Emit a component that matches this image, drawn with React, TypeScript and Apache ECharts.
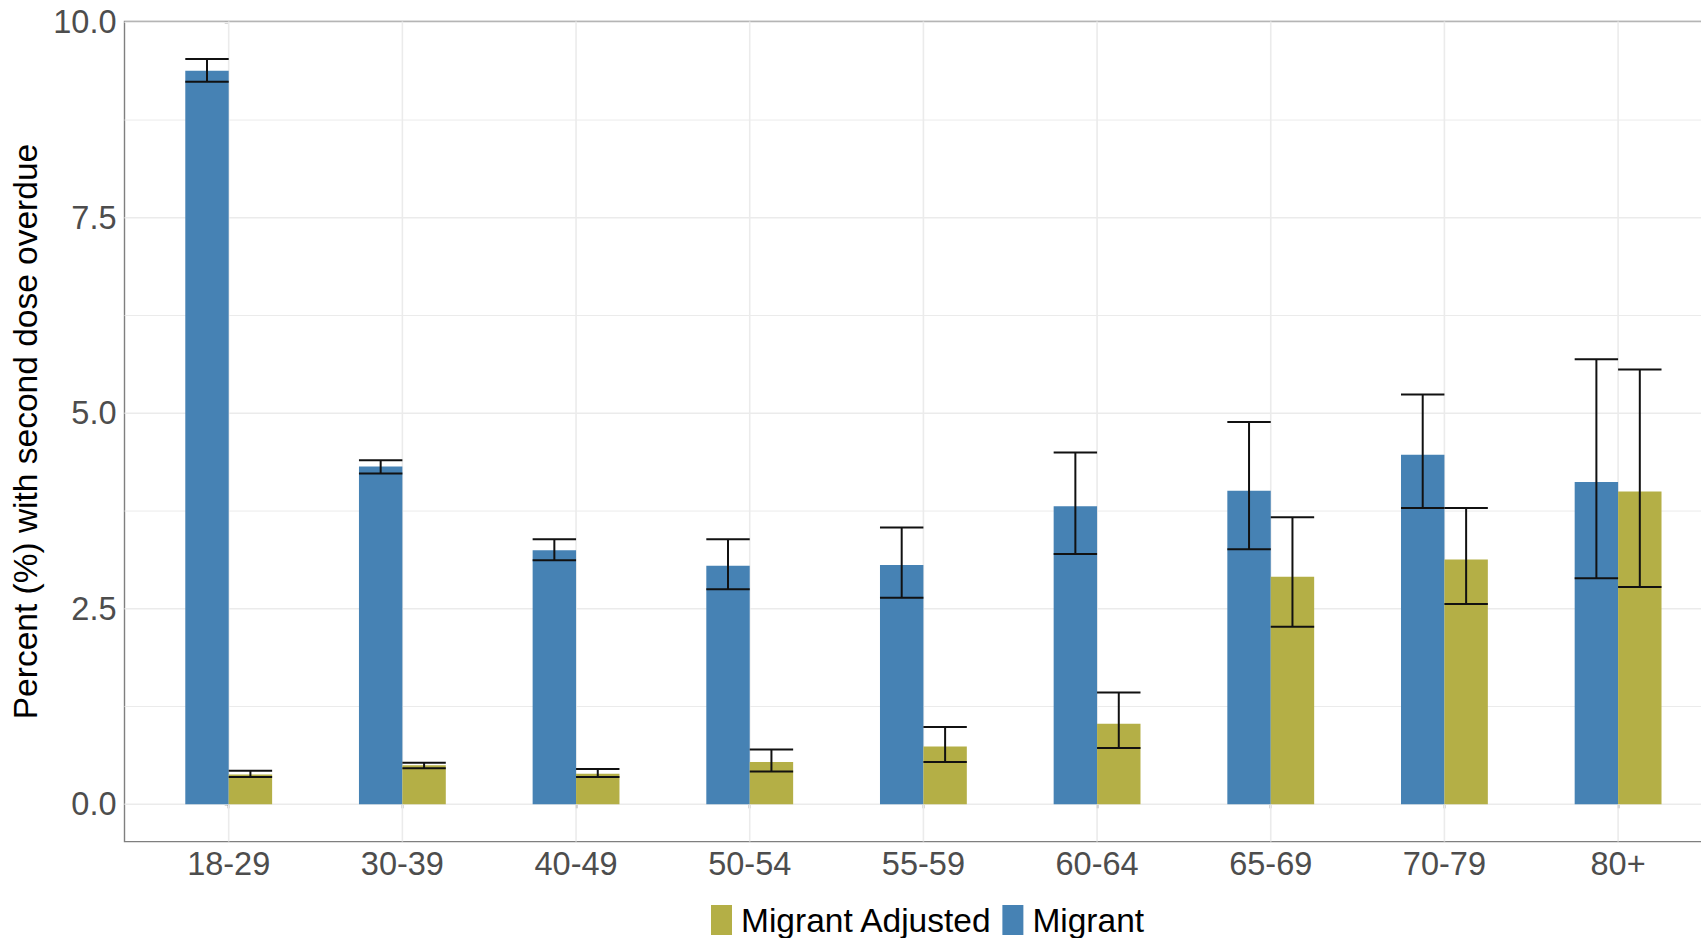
import React, { useEffect, useRef } from "react";
import * as echarts from "echarts";

const categories = ["18-29", "30-39", "40-49", "50-54", "55-59", "60-64", "65-69", "70-79", "80+"];

const migrant = [9.38, 4.32, 3.25, 3.05, 3.06, 3.81, 4.01, 4.47, 4.12];
const migrantLower = [9.24, 4.23, 3.12, 2.75, 2.64, 3.2, 3.26, 3.79, 2.89];
const migrantUpper = [9.53, 4.4, 3.39, 3.39, 3.54, 4.5, 4.89, 5.24, 5.69];

const adjusted = [0.38, 0.5, 0.39, 0.54, 0.74, 1.03, 2.91, 3.13, 4.0];
const adjustedLower = [0.35, 0.46, 0.35, 0.42, 0.54, 0.72, 2.27, 2.56, 2.78];
const adjustedUpper = [0.43, 0.53, 0.45, 0.7, 0.99, 1.43, 3.67, 3.79, 5.56];

const yTicks = [0, 2.5, 5, 7.5, 10];
const yMinorGrid = [1.25, 3.75, 6.25, 8.75];

const FONT = "'Liberation Sans', Arial, Helvetica, sans-serif";
const BLUE = "#4682B4";
const OLIVE = "#B4AF46";
const X_MIN = -0.6;
const X_MAX = 8.6;
const Y_MIN = -0.477;
const Y_MAX = 10.01;
const BAR_W = 0.25;

function barSeries(name: string, values: number[], offset: number, color: string) {
  return {
    name,
    type: "custom",
    z: 3,
    itemStyle: { color },
    encode: { x: 0, y: 1 },
    data: values.map((v, i) => [i, v]),
    renderItem: (_p: any, api: any) => {
      const i = api.value(0);
      const v = api.value(1);
      const a = api.coord([i + offset, v]);
      const b = api.coord([i + offset + BAR_W, 0]);
      return {
        type: "rect",
        shape: { x: a[0], y: a[1], width: b[0] - a[0], height: b[1] - a[1] },
        style: { fill: color },
      };
    },
  };
}

function errorSeries(name: string, lower: number[], upper: number[], offset: number) {
  return {
    name,
    type: "custom",
    z: 4,
    encode: { x: 0, y: [1, 2] },
    data: lower.map((lo, i) => [i, lo, upper[i]]),
    renderItem: (_p: any, api: any) => {
      const i = api.value(0);
      const lo = api.value(1);
      const hi = api.value(2);
      const c = i + offset + BAR_W / 2;
      const top = api.coord([c, hi]);
      const bot = api.coord([c, lo]);
      const l = api.coord([i + offset, hi])[0];
      const r = api.coord([i + offset + BAR_W, hi])[0];
      const style = { stroke: "#111111", lineWidth: 2, fill: null };
      return {
        type: "group",
        children: [
          { type: "line", shape: { x1: top[0], y1: top[1], x2: bot[0], y2: bot[1] }, style },
          { type: "line", shape: { x1: l, y1: top[1], x2: r, y2: top[1] }, style },
          { type: "line", shape: { x1: l, y1: bot[1], x2: r, y2: bot[1] }, style },
        ],
      };
    },
  };
}

export default function App() {
  const ref = useRef<HTMLDivElement>(null);

  useEffect(() => {
    if (!ref.current) return;
    const chart = echarts.init(ref.current, undefined, { renderer: "svg" });

    const hGrid = [...yTicks, ...yMinorGrid];

    const option: any = {
      animation: false,
      backgroundColor: "#ffffff",
      textStyle: { fontFamily: FONT },
      grid: {
        left: 124.5,
        top: 21.5,
        width: 1597.8,
        height: 820.1,
        outerBoundsMode: "none",
        containLabel: false,
        show: true,
        borderColor: "#7f7f7f",
        borderWidth: 1.4,
        backgroundColor: "transparent",
      },
      legend: {
        data: ["Migrant Adjusted", "Migrant"],
        left: 711,
        top: 903,
        padding: 0,
        itemWidth: 21,
        itemHeight: 30,
        itemGap: 10,
        icon: "rect",
        textStyle: { fontSize: 33.5, color: "#000000", fontFamily: FONT, padding: [0, 0, 0, 4] },
      },
      xAxis: {
        type: "value",
        min: X_MIN,
        max: X_MAX,
        axisLine: { show: false },
        splitLine: { show: false },
        axisTick: {
          show: true,
          length: 4,
          customValues: categories.map((_, i) => i),
          lineStyle: { color: "#333333", width: 1.4 },
        },
        axisLabel: {
          customValues: categories.map((_, i) => i),
          formatter: (v: number) => categories[Math.round(v)] ?? "",
          fontSize: 32.5,
          color: "#4D4D4D",
          fontFamily: FONT,
          margin: 6,
        },
      },
      yAxis: {
        type: "value",
        min: Y_MIN,
        max: Y_MAX,
        name: "Percent (%) with second dose overdue",
        nameLocation: "middle",
        nameRotate: 90,
        nameGap: 70,
        nameTextStyle: { fontSize: 33.5, color: "#000000", fontFamily: FONT },
        axisLine: { show: false },
        splitLine: { show: false },
        axisTick: {
          show: true,
          length: 4,
          customValues: yTicks,
          lineStyle: { color: "#333333", width: 1.4 },
        },
        axisLabel: {
          customValues: yTicks,
          formatter: (v: number) => v.toFixed(1),
          fontSize: 32.5,
          color: "#4D4D4D",
          fontFamily: FONT,
          margin: 8,
        },
      },
      series: [
        {
          name: "hgrid",
          type: "custom",
          z: 1,
          silent: true,
          encode: { y: 0 },
          data: hGrid.map((v) => [v]),
          renderItem: (_p: any, api: any) => {
            const v = api.value(0);
            const a = api.coord([X_MIN, v]);
            const b = api.coord([X_MAX, v]);
            const major = yTicks.includes(v);
            return {
              type: "line",
              shape: { x1: a[0], y1: a[1], x2: b[0], y2: b[1] },
              style: { stroke: "#EBEBEB", lineWidth: major ? 1.6 : 1.0 },
            };
          },
        },
        {
          name: "vgrid",
          type: "custom",
          z: 1,
          silent: true,
          encode: { x: 0 },
          data: categories.map((_, i) => [i]),
          renderItem: (_p: any, api: any) => {
            const i = api.value(0);
            const a = api.coord([i, Y_MIN]);
            const b = api.coord([i, Y_MAX]);
            return {
              type: "line",
              shape: { x1: a[0], y1: a[1], x2: b[0], y2: b[1] },
              style: { stroke: "#EBEBEB", lineWidth: 1.6 },
            };
          },
        },
        barSeries("Migrant", migrant, -BAR_W, BLUE),
        barSeries("Migrant Adjusted", adjusted, 0, OLIVE),
        errorSeries("Migrant CI", migrantLower, migrantUpper, -BAR_W),
        errorSeries("Migrant Adjusted CI", adjustedLower, adjustedUpper, 0),
      ],
    };

    chart.setOption(option);
    return () => chart.dispose();
  }, []);

  return (
    <div
      ref={ref}
      style={{ position: "fixed", left: 0, top: 0, width: 1701, height: 938, background: "#fff" }}
    />
  );
}
